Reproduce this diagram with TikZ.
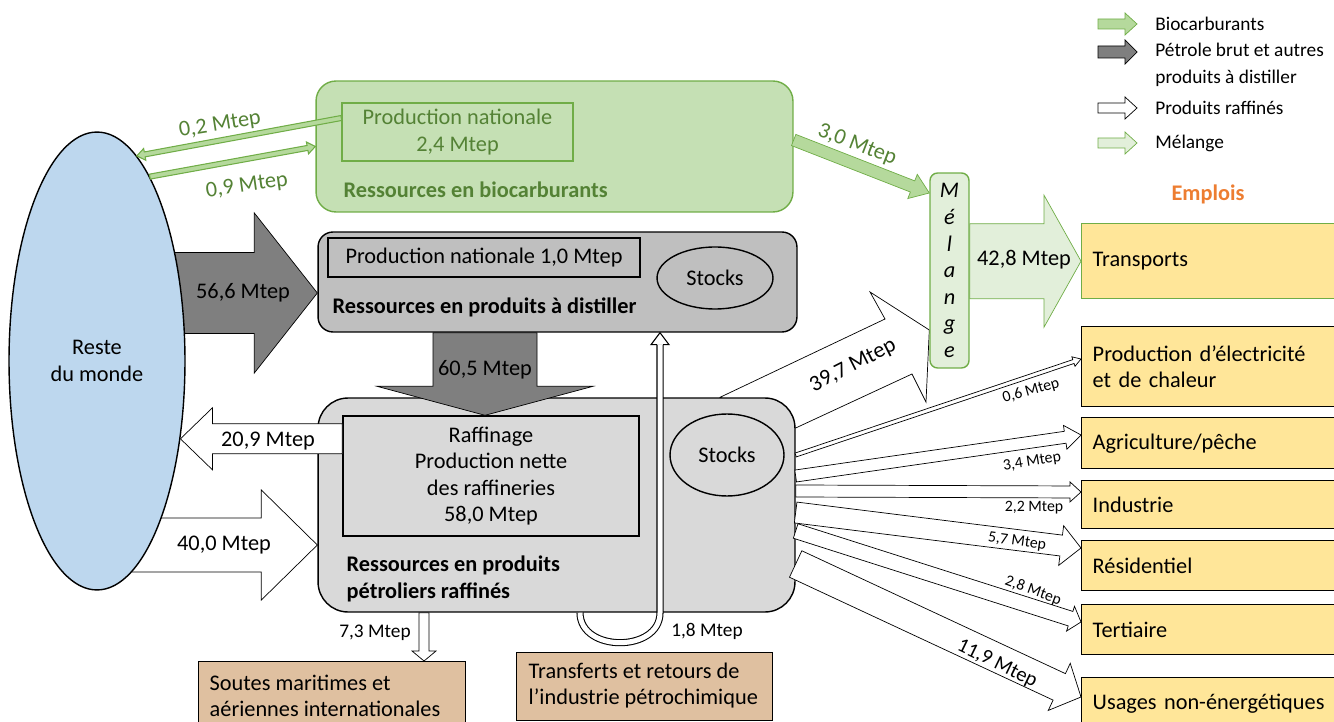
\documentclass[tikz,border=0pt]{standalone}
\usepackage{fontspec}
\setmainfont{Carlito}
\usepackage{tikz}
\usetikzlibrary{calc}
\usetikzlibrary{shapes.geometric}
\usetikzlibrary{backgrounds}

\definecolor{bioline}{HTML}{70AD47}
\definecolor{biotext}{HTML}{548235}
\definecolor{biofill}{HTML}{C5E0B4}
\definecolor{bioarrow}{HTML}{B5D99C}
\definecolor{melfill}{HTML}{E2EFDA}
\definecolor{distfill}{HTML}{BFBFBF}
\definecolor{raffill}{HTML}{D9D9D9}
\definecolor{darkfill}{HTML}{7F7F7F}
\definecolor{worldfill}{HTML}{BDD7EE}
\definecolor{usefill}{HTML}{FFE699}
\definecolor{soutefill}{HTML}{DFC0A0}
\definecolor{emploi}{HTML}{ED7D31}

\newcommand{\bigtxt}{\fontsize{12.7}{15}\selectfont}
\newcommand{\midtxt}{\fontsize{11}{13}\selectfont}
\newcommand{\smalltxt}{\fontsize{9}{11}\selectfont}
\newcommand{\legtxt}{\fontsize{11}{15.3}\selectfont}

% block arrow: from, to, half width, half head width, head length (px)
\newcommand{\flowarrow}[6][]{%
  \filldraw[#1] ($(#2)!#4*0.02cm!90:(#3)$)
    -- ($(#3)!#6*0.02cm!(#2)!#4*0.02cm!-90:(#2)$)
    -- ($(#3)!#6*0.02cm!(#2)!#5*0.02cm!-90:(#2)$)
    -- (#3)
    -- ($(#3)!#6*0.02cm!(#2)!#5*0.02cm!90:(#2)$)
    -- ($(#3)!#6*0.02cm!(#2)!#4*0.02cm!90:(#2)$)
    -- ($(#2)!#4*0.02cm!-90:(#3)$) -- cycle;
}

\tikzset{%
  resbox/.style={rectangle, rounded corners=#1, draw=black},
  resbox/.default=0.3cm,
  inbox/.style={rectangle, draw=black},
  stockell/.style={ellipse, draw=black, inner sep=0pt},
  usebox/.style={rectangle, draw=black, fill=usefill, anchor=north west,
    minimum width=5.4cm, inner xsep=0.22cm, text width=4.96cm, align=left},
  soutebox/.style={rectangle, draw=black, fill=soutefill, anchor=north west},
  hollow/.style={draw=black, fill=white},
  darkarrow/.style={draw=black, fill=darkfill},
  bioflow/.style={draw=bioline, fill=bioarrow},
  melflow/.style={draw=bioline, fill=melfill},
  biotxt/.style={text=biotext},
  reslab/.style={font=\bigtxt\bfseries, anchor=west, align=left, inner sep=0pt},
  legentry/.style={font=\legtxt, anchor=west, align=left, inner sep=0pt},
  flowlab/.style={inner sep=0pt}
}

\begin{document}
\begin{tikzpicture}[x=0.02cm, y=-0.02cm, line width=0.8pt, font=\bigtxt]
\useasboundingbox (0,0) rectangle (1334,722);
\clip (0,0) rectangle (1334,722);

% world
\node[ellipse, draw=black, fill=worldfill, minimum width=3.52cm, minimum height=9.16cm,
  inner sep=0pt, align=center] (RM) at (97,361) {Reste\\du monde};

% biofuels
\node[resbox=0.4cm, draw=bioline, fill=biofill, minimum width=9.54cm, minimum height=2.62cm] (BIO) at (554.5,146.5) {};
\node[inbox, draw=bioline, biotxt, minimum width=4.62cm, minimum height=1.16cm, align=center] (BIOP) at (457.5,132) {Production nationale\\2,4 Mtep};
\node[reslab, biotxt] (BIOL) at (343,190) {Ressources en biocarburants};

% products to distil
\node[resbox=0.3cm, fill=distfill, minimum width=9.58cm, minimum height=2cm] (DIST) at (557.5,282) {};
\node[inbox, minimum width=6.24cm, minimum height=0.78cm] (DISTP) at (484,257.5) {Production nationale 1,0 Mtep};
\node[stockell, minimum width=2.32cm, minimum height=1.24cm] (DISTS) at (715,278) {Stocks};
\node[reslab] (DISTL) at (332,307) {Ressources en produits à distiller};

% refined products
\node[resbox=0.6cm, fill=raffill, minimum width=9.54cm, minimum height=4.28cm] (RAF) at (556.5,505) {};
\node[inbox, minimum width=5.92cm, minimum height=2.4cm, align=center] (RAFP) at (491,476) {Raffinage\\Production nette\\des raffineries\\58,0 Mtep};
\node[stockell, minimum width=2.28cm, minimum height=1.64cm] (RAFS) at (727,455) {Stocks};
\node[reslab] (RAFL) at (346,579) {Ressources en produits\\pétroliers raffinés};

% blend
\node[resbox=0.15cm, draw=bioline, fill=melfill, minimum width=0.78cm, minimum height=3.9cm,
  inner sep=0pt, align=center, font=\fontsize{12.7}{15.1}\selectfont\itshape] (MEL) at (949.5,270.5) {M\\é\\l\\a\\n\\g\\e};

% uses
\node[font=\bigtxt\bfseries, text=emploi] (EMP) at (1208,194) {Emplois};
\node[usebox, draw=bioline, minimum height=1.5cm] (TR) at (1081,223) {Transports};
\foreach \n/\ya/\hh/\txt in {PE/326/1.6/{Production d’électricité\\et de chaleur}, AG/417/1.02/{Agriculture/pêche},
  IN/480/0.96/Industrie, RE/540/1.0/Résidentiel, TE/604/1.0/Tertiaire, UN/677/1.04/{Usages non-énergétiques}} {
  \node[usebox, minimum height=\hh cm] (\n) at (1081,\ya) {\txt};
}

\node[soutebox, minimum width=5.34cm, minimum height=1.36cm] (SOU) at (198,661) {};
\node[anchor=west, align=left, inner sep=0pt] (SOUT) at ($(SOU.west)+(11,0)$) {Soutes maritimes et\\aériennes internationales};
\node[soutebox, minimum width=5.12cm, minimum height=1.36cm] (TRA) at (516,652) {};
\node[anchor=west, align=left, inner sep=0pt] (TRAT) at ($(TRA.west)+(12,-1)$) {Transferts et retours de\\l’industrie pétrochimique};

% flows under the boxes
\begin{pgfonlayer}{background}
  \flowarrow[darkarrow]{RM |- 0,293}{DIST.west |- 0,293}{40.5}{80}{63}
  \flowarrow[hollow]{RM |- 0,545}{RAF.west |- 0,545}{27}{55}{56}
  \coordinate (r1) at (RAF.north -| 720,0);
  \coordinate (r2) at (RAF.east |- 0,428);
  \coordinate (m2) at (MEL.west |- 0,330);
  \filldraw[hollow] (r1) -- (885,319) -- (870,292) -- (m2) -- (926,402) -- (912,374) -- (r2) -- cycle;
\end{pgfonlayer}

% biofuel flows
\flowarrow[bioflow, line width=0.6pt]{BIOP.west |- 0,118}{RM.79}{2.5}{6}{8}
\flowarrow[bioflow, line width=0.6pt]{RM.74}{BIO.west}{2.5}{6}{8}
\coordinate (b1) at (BIO.east |- 0,140);
\coordinate (m1) at (MEL.west |- 0,193);
\flowarrow[bioflow]{b1}{m1}{6}{13}{18}
\flowarrow[melflow]{MEL.east |- TR.west}{TR.west}{37.5}{66}{37}

% crude and refined flows
\coordinate (t60) at (RAFP.north -| 485,0);
\flowarrow[darkarrow]{t60 |- DIST.south}{t60}{52}{108}{29}
\coordinate (w20) at (RM.-43);
\flowarrow[hollow]{RAFP.west |- w20}{w20}{15}{31}{32}
\flowarrow[hollow]{RAF.south -| 424,0}{SOU.north -| 424,0}{5}{12}{10}

\foreach \n/\ys/\yt/\w/\hw/\hl in {PE/455/359/2/5/8, AG/476/435/6/12/16, IN/491/492/6/10/11,
  RE/512.5/548/10.5/20/20, TE/531/622/7.6/13/11, UN/564/697/14.6/26/24} {
  \coordinate (o\n) at (RAF.east |- 0,\ys);
  \coordinate (i\n) at (\n.west |- 0,\yt);
  \flowarrow[hollow]{o\n}{i\n}{\w}{\hw}{\hl}
}

% petrochemistry loop
\coordinate (u1) at (RAF.south -| 580,0);
\coordinate (u2) at (RAF.south -| 660,0);
\coordinate (u3) at (DIST.south -| 660,0);
\draw[double=white, double distance=0.1cm, line width=0.6pt] (u1) .. controls +(0,40) and +(0,40) .. (u2) -- ($(u3)+(0,12)$);
\fill[white] ($(u3)+(-9,12)$) -- (u3) -- ($(u3)+(9,12)$) -- cycle;
\draw[line width=0.6pt] ($(u3)+(-3,12)$) -- ($(u3)+(-9,12)$) -- (u3) -- ($(u3)+(9,12)$) -- ($(u3)+(3,12)$);

% flow labels
\node[flowlab, biotxt, rotate=9] (L02) at (220,125) {0,2 Mtep};
\node[flowlab, biotxt, rotate=8] (L09) at (247,186) {0,9 Mtep};
\node[flowlab, biotxt, rotate=-21] (L30) at (857,145) {3,0 Mtep};
\node[flowlab] (L566) at (243,293) {56,6 Mtep};
\node[flowlab] (L605) at (485,370) {60,5 Mtep};
\node[flowlab] (L209) at (268,441) {20,9 Mtep};
\node[flowlab] (L400) at (224,545) {40,0 Mtep};
\node[flowlab] (L428) at (1024,260) {42,8 Mtep};
\node[flowlab, rotate=27] (L397) at (853,366) {39,7 Mtep};
\node[flowlab, font=\midtxt] (L73) at (375,633) {7,3 Mtep};
\node[flowlab, font=\midtxt] (L18) at (707,631) {1,8 Mtep};
\foreach \n/\x/\y/\r/\v in {06/1031/391/16/{0,6}, 34/1032/462/9/{3,4}, 22/1034/508/0/{2,2},
  57/1017/542/-8/{5,7}, 28/1033/591/-20/{2,8}} {
  \node[flowlab, font=\smalltxt, rotate=\r] (L\n) at (\x,\y) {\v{} Mtep};
}
\node[flowlab, font=\fontsize{11.7}{14}\selectfont, rotate=-26] (L119) at (997,664) {11,9 Mtep};

% legend
\flowarrow[bioflow]{1098,24}{1137,24}{5}{11}{12}
\flowarrow[darkarrow]{1098,52}{1137,52}{6}{12}{12}
\flowarrow[hollow]{1098,108}{1137,108}{5}{11}{12}
\flowarrow[melflow]{1098,143}{1137,143}{5}{11}{12}
\node[legentry] (LG1) at (1155,24) {Biocarburants};
\node[legentry] (LG2) at (1155,64.5) {Pétrole brut et autres\\produits à distiller};
\node[legentry] (LG3) at (1155,108) {Produits raffinés};
\node[legentry] (LG4) at (1155,143) {Mélange};

\end{tikzpicture}
\end{document}
